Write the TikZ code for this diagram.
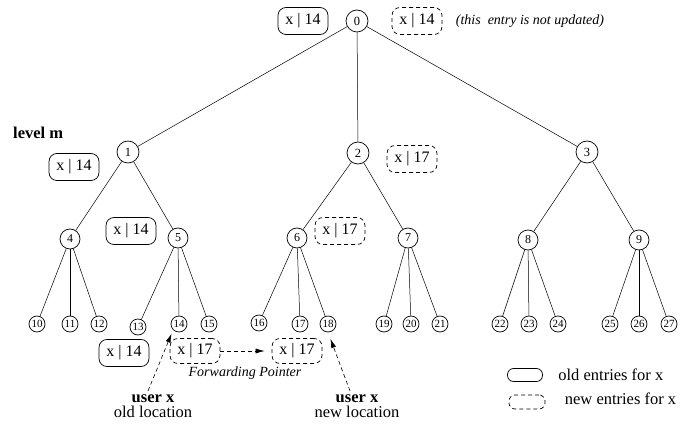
\documentclass[tikz,border=0pt]{standalone}
\usepackage{fontspec}
\setmainfont{Liberation Serif}
\usetikzlibrary{positioning,arrows.meta}

\begin{document}
\begin{tikzpicture}[x=1pt,y=-1pt,
    vtx/.style={draw,circle,inner sep=0pt,line width=0.7pt},
    top/.style={vtx,minimum size=22pt,font=\fontsize{12.5}{12.5}\selectfont},
    mid/.style={vtx,minimum size=20pt,font=\fontsize{12}{12}\selectfont},
    leaf/.style={vtx,minimum size=16pt,font=\fontsize{11}{11}\selectfont},
    oldentry/.style={draw,line width=0.7pt,rounded corners=8pt,minimum width=50pt,
      minimum height=27pt,inner sep=0pt,font=\fontsize{16}{16}\selectfont},
    newentry/.style={oldentry,dash pattern=on 4pt off 3pt},
    ptr/.style={line width=0.6pt,dash pattern=on 4pt off 3pt,-{Latex[length=9pt,width=5pt]}},
    big/.style={font=\fontsize{16.5}{15}\selectfont}
  ]
  \useasboundingbox (0,0) rectangle (683,425);

  % tree: root, level m, middle level
  \node[top] (n0) at (357,21) {0};
  \node[top] (n1) at (128,152) {1};
  \node[top] (n2) at (358,153) {2};
  \node[top] (n3) at (587,152) {3};
  \node[mid] (n4) at (70,239) {4};
  \node[mid] (n5) at (178,238) {5};
  \node[mid] (n6) at (297,238) {6};
  \node[mid] (n7) at (408,238) {7};
  \node[mid] (n8) at (528,240) {8};
  \node[mid] (n9) at (639,240) {9};

  % leaves
  \foreach \n/\x/\y in {10/37/324, 11/70/324, 12/99/324, 13/138/327, 14/179/324, 15/209/324,
      16/259/323, 17/300/324, 18/328/324, 19/384/324, 20/411/324, 21/440/324,
      22/500/324, 23/529/324, 24/558/324, 25/610/324, 26/639/324, 27/669/324}
    \node[leaf] (n\n) at (\x,\y) {\n};

  % edges
  \foreach \a/\b in {n0/n1, n0/n2, n0/n3, n1/n4, n1/n5, n2/n6, n2/n7, n3/n8, n3/n9}
    \draw[line width=0.5pt] (\a) -- (\b);
  \foreach \p in {4,...,9}
    \foreach \k in {2,1,0} {
      \pgfmathtruncatemacro{\c}{3*\p-\k}
      \draw[line width=0.5pt] (n\p) -- (n\c);
    }

  % entries for x
  \node[oldentry] (e0old) at (303,21) {x | 14};
  \node[newentry] (e0new) at (417,21) {x | 14};
  \node[right=10pt of e0new, font=\itshape\fontsize{14}{14}\selectfont] (e0note) {(this\ \ entry is not updated)};
  \node[anchor=west, inner sep=0pt, font=\bfseries\fontsize{16.5}{17}\selectfont] (levm) at (13,133) {level m};
  \node[oldentry] (e1old) at (74,167) {x | 14};
  \node[oldentry] (e4old) at (131,231) {x | 14};
  \node[newentry] (e2new) at (412,159) {x | 17};
  \node[newentry] (e6new) at (340,231) {x | 17};
  \node[oldentry] (e14old) at (124,353) {x | 14};

  % forwarding pointer between old and new location
  \node[newentry, minimum height=25pt] (fwdold) at (195,351) {x | 17};
  \node[newentry, minimum height=25pt] (fwdnew) at (297,351) {x | 17};
  \draw[ptr, shorten >=7pt] (fwdold.east) -- (fwdnew.west);
  \node[font=\itshape\fontsize{14}{14}\selectfont] (fwdlabel) at (245,373) {Forwarding Pointer};

  % user x
  \node[big, align=center] (oldloc) at (153,406) {\textbf{user x}\\old location};
  \node[big, align=center] (newloc) at (357,406) {\textbf{user x}\\new location};
  \draw[ptr, shorten >=4pt] ([xshift=-5pt]oldloc.north) -- (n14.south west);
  \draw[ptr, shorten >=7pt] ([xshift=-7pt]newloc.north) -- (n18.south);

  % legend
  \node[oldentry, minimum width=35pt, minimum height=13pt, rounded corners=6pt] (keyold) at (525,375) {};
  \node[big, right=12pt of keyold] (keyoldtext) {old entries for x};
  \node[newentry, minimum width=36pt, minimum height=14pt, rounded corners=6pt] (keynew) at (527,402) {};
  \node[big, right=16pt of keynew, yshift=3pt] (keynewtext) {new entries for x};
\end{tikzpicture}
\end{document}
